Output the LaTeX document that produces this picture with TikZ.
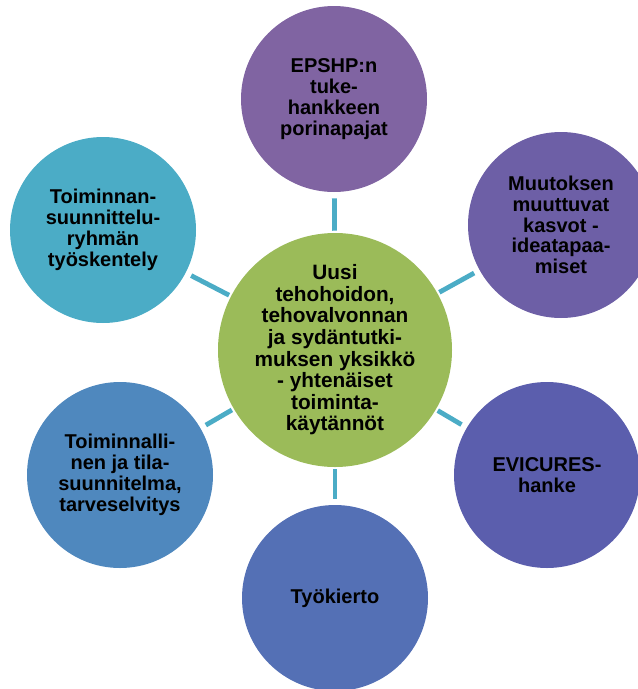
\documentclass[tikz,border=0pt]{standalone}
\usepackage{fontspec}
\setmainfont{Liberation Sans}
\definecolor{cgreen}{HTML}{9BBB59}
\definecolor{cteal}{HTML}{4BACC6}
\definecolor{cpurple}{HTML}{8064A2}
\definecolor{cpurpleb}{HTML}{6D5FA6}
\definecolor{cindigo}{HTML}{5B5EAD}
\definecolor{cblue}{HTML}{5470B5}
\definecolor{csteel}{HTML}{4F88BE}
\tikzset{
  txt/.style={font=\bfseries\fontsize{15}{15.6}\selectfont, text=black, align=center},
  outer/.style={circle, inner sep=0pt, minimum size=139.5pt, txt},
  hub/.style={circle, inner sep=0pt, minimum size=175.5pt, txt, fill=cgreen,
    font=\bfseries\fontsize{15.6}{16.2}\selectfont},
  conn/.style={draw=cteal, line width=3.6pt, shorten <=1.5pt, shorten >=4.5pt}
}
\begin{document}
\begin{tikzpicture}[x=0.75pt,y=-0.75pt]
\useasboundingbox (0,0) rectangle (637,689);
\node[hub] (c) at (335,350) {Uusi\\tehohoidon,\\tehovalvonnan\\ja sydäntutki-\\muksen yksikkö\\- yhtenäiset\\toiminta-\\käytännöt};
\node[outer, fill=cpurple] (t) at (334,99) {EPSHP:n\\tuke-\\hankkeen\\porinapajat};
\node[outer, fill=cpurpleb] (ur) at (561,225) {Muutoksen\\muuttuvat\\kasvot -\\ideatapaa-\\miset};
\node[outer, fill=cindigo] (lr) at (547,475) {EVICURES-\\hanke};
\node[outer, fill=cblue] (b) at (335,598) {Työkierto};
\node[outer, fill=csteel] (ll) at (120,475) {Toiminnalli-\\nen ja tila-\\suunnitelma,\\tarveselvitys};
\node[outer, fill=cteal] (ul) at (103,230) {Toiminnan-\\suunnittelu-\\ryhmän\\työskentely};
\foreach \n in {t,ur,lr,b,ll,ul} \draw[conn] (c) -- (\n);
\end{tikzpicture}
\end{document}
